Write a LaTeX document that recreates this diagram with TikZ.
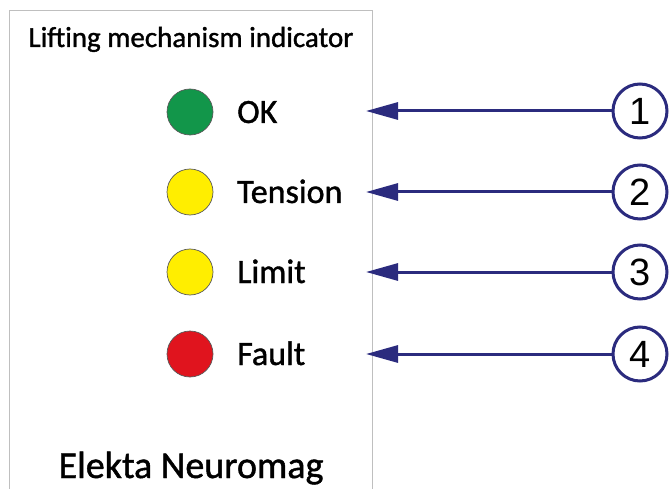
\documentclass[tikz,border=0pt]{standalone}
\usepackage{fontspec}
\setmainfont{Carlito}[FakeBold=1.2]
\newfontfamily\numfont{Liberation Sans}
\usetikzlibrary{arrows.meta}
\definecolor{navy}{HTML}{2B2B7E}
\definecolor{ledgreen}{HTML}{12964A}
\definecolor{ledyellow}{HTML}{FFEE00}
\definecolor{ledred}{HTML}{E0141E}
\tikzset{
  panel/.style={draw=black!25, line width=0.8pt},
  led/.style={circle, draw=black!65, line width=0.7pt, minimum size=46pt, inner sep=0pt},
  ledtext/.style={anchor=base west, inner sep=0pt, font=\fontsize{34}{35}\selectfont},
  callout/.style={circle, draw=navy, line width=3pt, fill=white, minimum size=54pt, inner sep=0pt,
                  font=\numfont\fontsize{38}{40}\selectfont},
  pointer/.style={draw=navy, line width=3pt, -{Triangle[length=32pt,width=17pt]}},
}
\begin{document}
\begin{tikzpicture}[x=1pt,y=-1pt]
  \path[fill=white] (0,0) rectangle (669,489);
  \useasboundingbox (0,0) rectangle (669,489);
  % indicator panel, open at the bottom
  \draw[panel] (9,500) -- (9,10) -- (372,10) -- (372,500);
  \node[anchor=base, inner sep=0pt, font=\fontsize{29}{30}\selectfont] (title) at (191,47) {Lifting mechanism indicator};
  \node[anchor=base, inner sep=0pt, font=\fontsize{38}{39}\selectfont] (brand) at (191,478) {Elekta Neuromag};
  % status lamps
  \node[led, fill=ledgreen]  (l1) at (190,112) {};
  \node[led, fill=ledyellow] (l2) at (190,192) {};
  \node[led, fill=ledyellow] (l3) at (190,272) {};
  \node[led, fill=ledred]    (l4) at (190,354) {};
  \node[ledtext] (t1) at (237,123) {OK};
  \node[ledtext] (t2) at (237,203) {Tension};
  \node[ledtext] (t3) at (237,283) {Limit};
  \node[ledtext] (t4) at (237,365) {Fault};
  % numbered callouts
  \node[callout] (c1) at (640,111) {1};
  \node[callout] (c2) at (640,192) {2};
  \node[callout] (c3) at (640,272) {3};
  \node[callout] (c4) at (640,354) {4};
  \coordinate (p1) at (366,111);
  \coordinate (p2) at (366,192);
  \coordinate (p3) at (366,272);
  \coordinate (p4) at (366,354);
  \foreach \i in {1,...,4} \draw[pointer] (c\i.west) -- (p\i);
\end{tikzpicture}
\end{document}
